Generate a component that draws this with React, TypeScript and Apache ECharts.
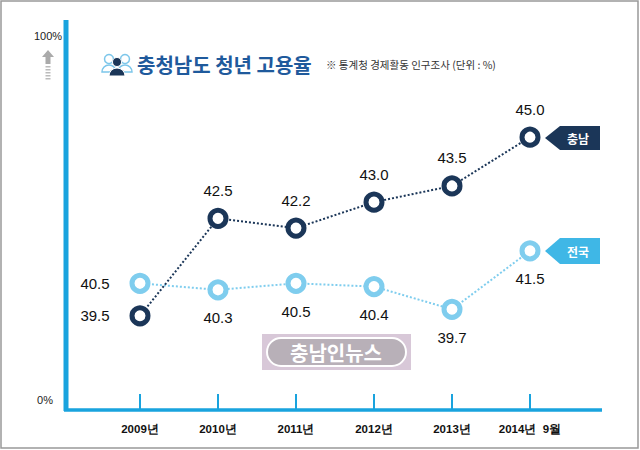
import React, { useEffect, useRef } from "react";
import * as echarts from "echarts";

const categories = ["2009년", "2010년", "2011년", "2012년", "2013년", "2014년  9월"];
const chungnam = [39.5, 42.5, 42.2, 43.0, 43.5, 45.0];
const national = [40.5, 40.3, 40.5, 40.4, 39.7, 41.5];

export default function App() {
  const ref = useRef<HTMLDivElement>(null);
  useEffect(() => {
    const chart = echarts.init(ref.current!, null, { renderer: "svg" });
    const dark = "#1b3658";
    const light = "#7fcdee";
    const blue = "#19a3de";
    const lbl = (pos: any) => ({ show: true, position: pos, distance: 10, color: "#111", fontSize: 15, fontFamily: "Liberation Sans", formatter: (p: any) => p.value.toFixed(1) });
    chart.setOption({
      animation: false,
      backgroundColor: "#fff",
      grid: { left: 140, right: 110, top: 30, bottom: 40 },
      xAxis: {
        type: "category", data: categories, boundaryGap: false,
        axisLine: { show: false },
        axisTick: { show: true, interval: 0, inside: true, length: 16, lineStyle: { color: blue, width: 2 } },
        axisLabel: { interval: 0, color: "#111", fontSize: 11.5, fontWeight: "bold", margin: 13, fontFamily: "Liberation Sans" },
      },
      yAxis: { type: "value", min: 36.6, max: 48.3, show: false, splitLine: { show: false } },
      series: [
        {
          type: "line", data: national, symbol: "circle", symbolSize: 16,
          lineStyle: { color: light, type: "dotted", width: 2 },
          itemStyle: { color: "#fff", borderColor: light, borderWidth: 5 },
          label: lbl("bottom"),
          labelLayout: (p: any) => p.dataIndex === 0 ? { dx: -45, dy: -28 } : {},
          z: 3,
        },
        {
          type: "line", data: chungnam, symbol: "circle", symbolSize: 16,
          lineStyle: { color: dark, type: "dotted", width: 2 },
          itemStyle: { color: "#fff", borderColor: dark, borderWidth: 5 },
          label: lbl("top"),
          labelLayout: (p: any) => p.dataIndex === 0 ? { dx: -45, dy: 28 } : {},
          z: 4,
        },
      ],
      graphic: [
        { type: "rect", shape: { x: 1, y: 1, width: 637, height: 447 }, style: { fill: "none", stroke: "#999", lineWidth: 1.5 }, silent: true },
        { type: "line", shape: { x1: 66, y1: 20, x2: 66, y2: 411 }, style: { stroke: blue, lineWidth: 5 } },
        { type: "line", shape: { x1: 64, y1: 410, x2: 602, y2: 410 }, style: { stroke: blue, lineWidth: 3.5 } },
        { type: "text", x: 48, y: 36, style: { text: "100%", fill: "#222", fontSize: 11, fontFamily: "Liberation Sans", align: "center", verticalAlign: "middle" } },
        { type: "text", x: 45, y: 400, style: { text: "0%", fill: "#222", fontSize: 11, fontFamily: "Liberation Sans", align: "center", verticalAlign: "middle" } },
        { type: "polygon", shape: { points: [[42, 57], [48, 50], [54, 57], [50.5, 57], [50.5, 64], [45.5, 64], [45.5, 57]] }, style: { fill: "#aaa" } },
        ...[66, 69, 72, 75, 78].map((y) => ({ type: "rect", shape: { x: 45.5, y, width: 5, height: 1.5 }, style: { fill: "#bbb" } })),
        // icon
        { type: "circle", shape: { cx: 109, cy: 59, r: 4.5 }, style: { fill: "none", stroke: "#7cc6ea", lineWidth: 1.5 } },
        { type: "circle", shape: { cx: 125, cy: 59, r: 4.5 }, style: { fill: "none", stroke: "#7cc6ea", lineWidth: 1.5 } },
        { type: "sector", shape: { cx: 109, cy: 72, r0: 0, r: 7, startAngle: Math.PI, endAngle: 0 }, style: { fill: "none", stroke: "#7cc6ea", lineWidth: 1.5 } },
        { type: "sector", shape: { cx: 125, cy: 72, r0: 0, r: 7, startAngle: Math.PI, endAngle: 0 }, style: { fill: "none", stroke: "#7cc6ea", lineWidth: 1.5 } },
        { type: "circle", shape: { cx: 117, cy: 62, r: 4.5 }, style: { fill: dark, stroke: "#fff", lineWidth: 1 } },
        { type: "sector", shape: { cx: 117, cy: 76, r0: 0, r: 8, startAngle: Math.PI, endAngle: 0 }, style: { fill: dark, stroke: "#fff", lineWidth: 1 } },
        { type: "text", x: 137, y: 64, style: { text: "충청남도 청년 고용율", fill: "#1f5a9c", fontSize: 20, fontWeight: "bold", fontFamily: "Noto Sans CJK KR", verticalAlign: "middle" } },
        { type: "text", x: 326, y: 64, style: { text: "※ 통계청 경제활동 인구조사 (단위 : %)", fill: "#333", fontSize: 10.5, fontFamily: "Noto Sans CJK KR", verticalAlign: "middle" } },
        // tags
        { type: "polygon", shape: { points: [[545, 138], [560, 126], [600, 126], [600, 150], [560, 150]] }, style: { fill: dark } },
        { type: "text", x: 578, y: 138, style: { text: "충남", fill: "#fff", fontSize: 12, fontWeight: "bold", fontFamily: "Noto Sans CJK KR", align: "center", verticalAlign: "middle" } },
        { type: "polygon", shape: { points: [[545, 251], [560, 238], [600, 238], [600, 264], [560, 264]] }, style: { fill: "#3fb7e6" } },
        { type: "text", x: 578, y: 251, style: { text: "전국", fill: "#fff", fontSize: 12, fontWeight: "bold", fontFamily: "Noto Sans CJK KR", align: "center", verticalAlign: "middle" } },
        // watermark
        { type: "rect", shape: { x: 262, y: 334, width: 149, height: 36 }, style: { fill: "#d8c8d8" } },
        { type: "rect", shape: { x: 267, y: 338, width: 139, height: 28, r: 14 }, style: { fill: "#b8b0b8", stroke: "#fff", lineWidth: 2 } },
        { type: "text", x: 336, y: 352, style: { text: "충남인뉴스", fill: "#fff", fontSize: 20, fontWeight: "bold", fontFamily: "Noto Sans CJK KR", align: "center", verticalAlign: "middle" } },
      ],
    });
    return () => chart.dispose();
  }, []);
  return <div ref={ref} style={{ position: "absolute", left: 0, top: 0, width: 640, height: 450 }} />;
}
